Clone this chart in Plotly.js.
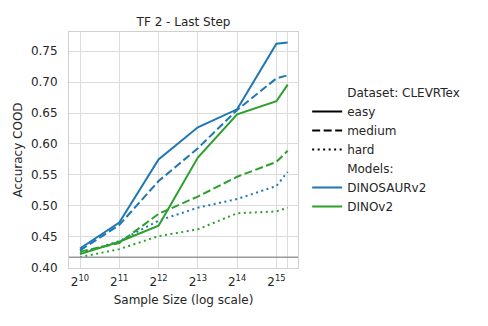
<!DOCTYPE html>
<html>
<head>
<meta charset="utf-8">
<script src="https://cdn.plot.ly/plotly-3.0.1.min.js"></script>
<style>
  body { margin: 0; padding: 0; background: white; }
  #graph { width: 488px; height: 326px; }
</style>
</head>
<body>
<div id="graph"></div>
<script>
// Datos
var sizes = [1024, 2048, 4096, 8192, 16384, 32768, 40000];
var tickVals = [1024, 2048, 4096, 8192, 16384, 32768, 40000];
var tickText = ['2<sup>10</sup>', '2<sup>11</sup>', '2<sup>12</sup>', '2<sup>13</sup>',
                '2<sup>14</sup>', '2<sup>15</sup>', ''];

var dinosaurEasy   = [0.431, 0.473, 0.575, 0.627, 0.656, 0.762, 0.764];
var dinosaurMedium = [0.428, 0.469, 0.540, 0.593, 0.655, 0.706, 0.711];
var dinosaurHard   = [0.423, 0.443, 0.476, 0.497, 0.511, 0.532, 0.555];
var dinoEasy       = [0.422, 0.442, 0.468, 0.578, 0.648, 0.669, 0.696];
var dinoMedium     = [0.426, 0.440, 0.487, 0.515, 0.547, 0.571, 0.589];
var dinoHard       = [0.417, 0.430, 0.451, 0.462, 0.488, 0.491, 0.497];

var chanceLevel = 0.4167;

var legendNames = ['Dataset: CLEVRTex', 'easy', 'medium', 'hard', 'Models:', 'DINOSAURv2', 'DINOv2'];

// Estilos
var azul = '#1f77b4', verde = '#2ca02c';
var estilos = {solid: 'solid', dash: '8px,3.5px', dot: '2px,3.5px'};
var texto = '#262626';

function serie(y, color, dash) {
    return {
        x: sizes, y: y, mode: 'lines', showlegend: false,
        line: {color: color, width: 2, dash: dash}
    };
}

function entrada(nombre, color, dash) {
    return {
        x: [null], y: [null], mode: 'lines', name: nombre,
        line: {color: color, width: 2, dash: dash}
    };
}

var data = [
    serie(dinosaurEasy, azul, estilos.solid),
    serie(dinosaurMedium, azul, estilos.dash),
    serie(dinosaurHard, azul, estilos.dot),
    serie(dinoEasy, verde, estilos.solid),
    serie(dinoMedium, verde, estilos.dash),
    serie(dinoHard, verde, estilos.dot),
    // Leyenda
    entrada(legendNames[0], 'rgba(0,0,0,0)', 'solid'),
    entrada(legendNames[1], '#000', estilos.solid),
    entrada(legendNames[2], '#000', estilos.dash),
    entrada(legendNames[3], '#000', estilos.dot),
    entrada(legendNames[4], 'rgba(0,0,0,0)', 'solid'),
    entrada(legendNames[5], azul, estilos.solid),
    entrada(legendNames[6], verde, estilos.solid)
];

var layout = {
    width: 488,
    height: 326,
    margin: {l: 69, r: 190, t: 32, b: 58},
    paper_bgcolor: 'white',
    plot_bgcolor: 'white',
    font: {family: 'DejaVu Sans', size: 12, color: texto},
    title: {
        text: 'TF 2 - Last Step',
        x: 0.5, xref: 'paper', xanchor: 'center',
        y: 1, yref: 'paper', yanchor: 'bottom', pad: {b: 6},
        font: {size: 12, color: texto}
    },
    xaxis: {
        type: 'log',
        range: [Math.log10(Math.pow(2, 9.72)), Math.log10(Math.pow(2, 15.55))],
        tickvals: tickVals,
        ticktext: tickText,
        ticks: '',
        ticklabelstandoff: 3,
        showgrid: true,
        gridcolor: '#dcdcdc',
        gridwidth: 1,
        showline: true,
        linecolor: '#d0d0d0',
        linewidth: 1,
        mirror: true,
        zeroline: false,
        tickfont: {size: 12, color: texto},
        title: {text: 'Sample Size (log scale)', standoff: 7, font: {size: 12, color: texto}}
    },
    yaxis: {
        range: [0.3995, 0.781],
        tickvals: [0.40, 0.45, 0.50, 0.55, 0.60, 0.65, 0.70, 0.75],
        tickformat: '.2f',
        ticks: '',
        ticklabelstandoff: 8,
        showgrid: true,
        gridcolor: '#dcdcdc',
        gridwidth: 1,
        showline: true,
        linecolor: '#d0d0d0',
        linewidth: 1,
        mirror: true,
        zeroline: false,
        tickfont: {size: 12, color: texto},
        title: {text: 'Accuracy COOD', standoff: 5, font: {size: 12, color: texto}}
    },
    shapes: [{
        type: 'line', xref: 'paper', yref: 'y',
        x0: 0, x1: 1, y0: chanceLevel, y1: chanceLevel,
        line: {color: '#999999', width: 1.5}
    }],
    legend: {
        x: 1.04, xanchor: 'left',
        y: 0.805, yanchor: 'top',
        bgcolor: 'rgba(0,0,0,0)',
        borderwidth: 0,
        font: {size: 12, color: texto},
        traceorder: 'normal'
    },
    showlegend: true
};

Plotly.newPlot('graph', data, layout, {staticPlot: true});
</script>
</body>
</html>
